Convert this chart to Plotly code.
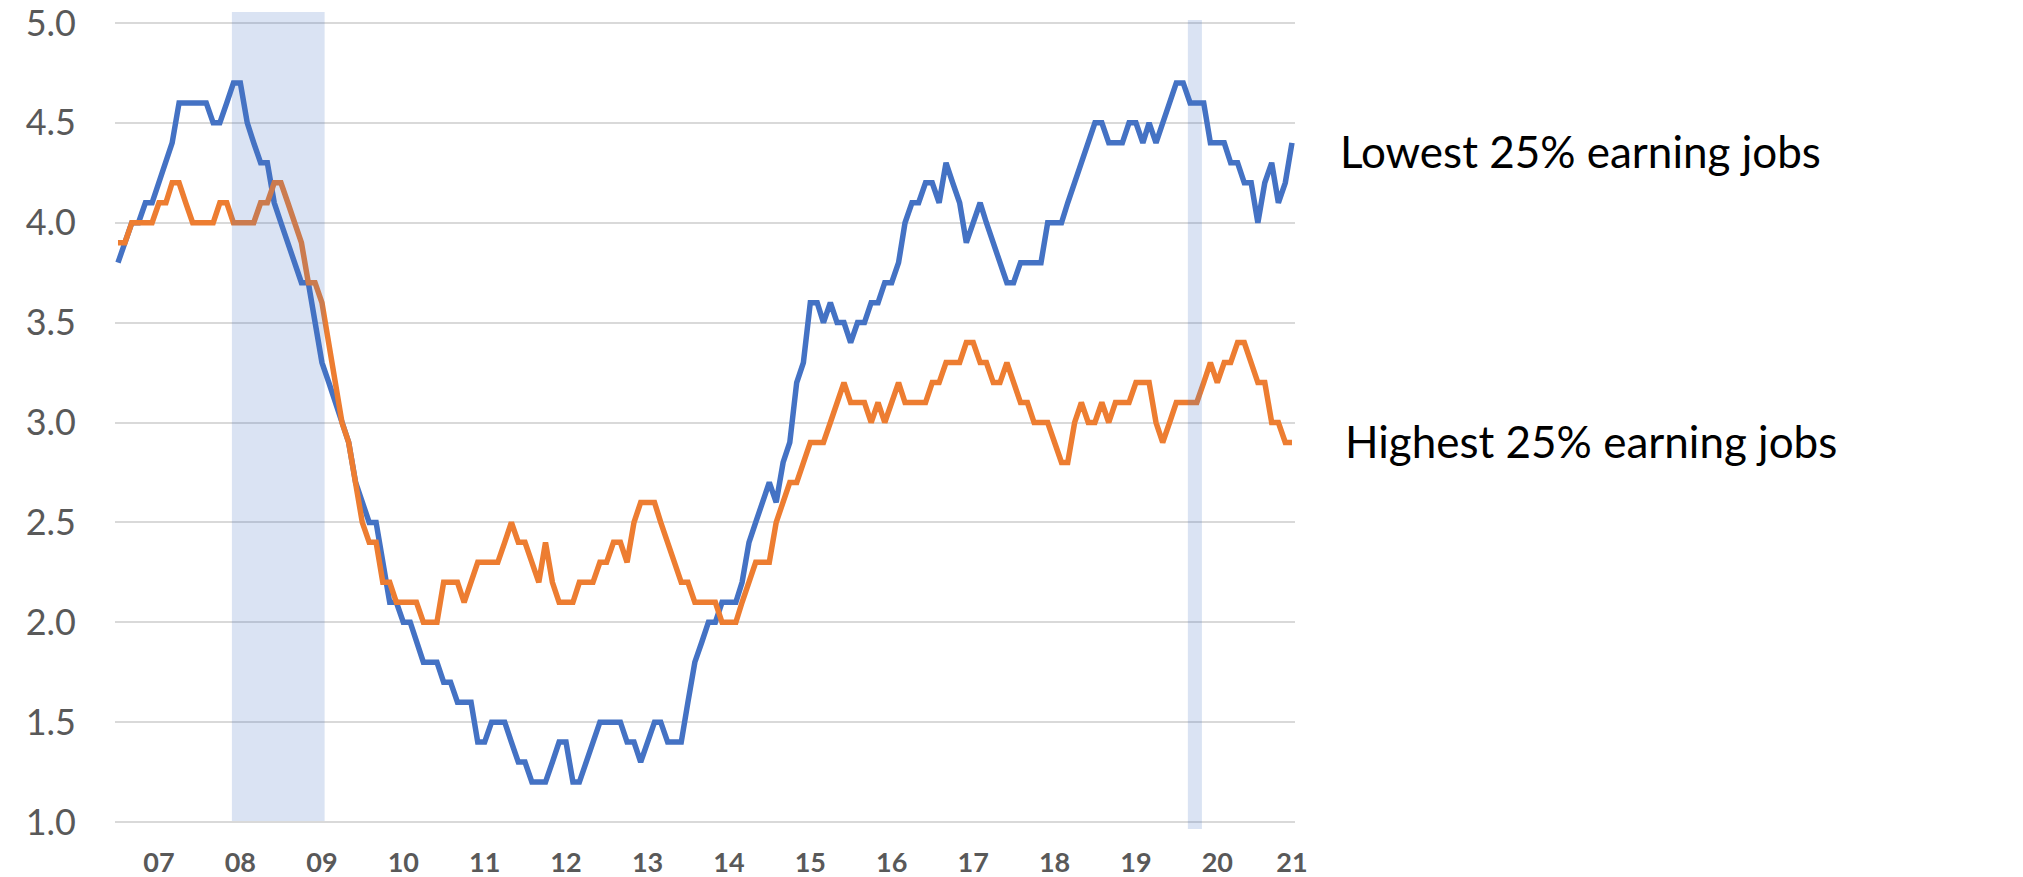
import pandas as pd
import plotly.graph_objects as go

# Monthly wage growth (%) by earnings quartile, Jul 2006 - Dec 2020
months = pd.date_range("2006-07-01", periods=174, freq="MS")

lowest_quartile = [
    3.8, 3.9, 4.0, 4.0, 4.1, 4.1, 4.2, 4.3, 4.4, 4.6,
    4.6, 4.6, 4.6, 4.6, 4.5, 4.5, 4.6, 4.7, 4.7, 4.5,
    4.4, 4.3, 4.3, 4.1, 4.0, 3.9, 3.8, 3.7, 3.7, 3.5,
    3.3, 3.2, 3.1, 3.0, 2.9, 2.7, 2.6, 2.5, 2.5, 2.3,
    2.1, 2.1, 2.0, 2.0, 1.9, 1.8, 1.8, 1.8, 1.7, 1.7,
    1.6, 1.6, 1.6, 1.4, 1.4, 1.5, 1.5, 1.5, 1.4, 1.3,
    1.3, 1.2, 1.2, 1.2, 1.3, 1.4, 1.4, 1.2, 1.2, 1.3,
    1.4, 1.5, 1.5, 1.5, 1.5, 1.4, 1.4, 1.3, 1.4, 1.5,
    1.5, 1.4, 1.4, 1.4, 1.6, 1.8, 1.9, 2.0, 2.0, 2.1,
    2.1, 2.1, 2.2, 2.4, 2.5, 2.6, 2.7, 2.6, 2.8, 2.9,
    3.2, 3.3, 3.6, 3.6, 3.5, 3.6, 3.5, 3.5, 3.4, 3.5,
    3.5, 3.6, 3.6, 3.7, 3.7, 3.8, 4.0, 4.1, 4.1, 4.2,
    4.2, 4.1, 4.3, 4.2, 4.1, 3.9, 4.0, 4.1, 4.0, 3.9,
    3.8, 3.7, 3.7, 3.8, 3.8, 3.8, 3.8, 4.0, 4.0, 4.0,
    4.1, 4.2, 4.3, 4.4, 4.5, 4.5, 4.4, 4.4, 4.4, 4.5,
    4.5, 4.4, 4.5, 4.4, 4.5, 4.6, 4.7, 4.7, 4.6, 4.6,
    4.6, 4.4, 4.4, 4.4, 4.3, 4.3, 4.2, 4.2, 4.0, 4.2,
    4.3, 4.1, 4.2, 4.4,
]

highest_quartile = [
    3.9, 3.9, 4.0, 4.0, 4.0, 4.0, 4.1, 4.1, 4.2, 4.2,
    4.1, 4.0, 4.0, 4.0, 4.0, 4.1, 4.1, 4.0, 4.0, 4.0,
    4.0, 4.1, 4.1, 4.2, 4.2, 4.1, 4.0, 3.9, 3.7, 3.7,
    3.6, 3.4, 3.2, 3.0, 2.9, 2.7, 2.5, 2.4, 2.4, 2.2,
    2.2, 2.1, 2.1, 2.1, 2.1, 2.0, 2.0, 2.0, 2.2, 2.2,
    2.2, 2.1, 2.2, 2.3, 2.3, 2.3, 2.3, 2.4, 2.5, 2.4,
    2.4, 2.3, 2.2, 2.4, 2.2, 2.1, 2.1, 2.1, 2.2, 2.2,
    2.2, 2.3, 2.3, 2.4, 2.4, 2.3, 2.5, 2.6, 2.6, 2.6,
    2.5, 2.4, 2.3, 2.2, 2.2, 2.1, 2.1, 2.1, 2.1, 2.0,
    2.0, 2.0, 2.1, 2.2, 2.3, 2.3, 2.3, 2.5, 2.6, 2.7,
    2.7, 2.8, 2.9, 2.9, 2.9, 3.0, 3.1, 3.2, 3.1, 3.1,
    3.1, 3.0, 3.1, 3.0, 3.1, 3.2, 3.1, 3.1, 3.1, 3.1,
    3.2, 3.2, 3.3, 3.3, 3.3, 3.4, 3.4, 3.3, 3.3, 3.2,
    3.2, 3.3, 3.2, 3.1, 3.1, 3.0, 3.0, 3.0, 2.9, 2.8,
    2.8, 3.0, 3.1, 3.0, 3.0, 3.1, 3.0, 3.1, 3.1, 3.1,
    3.2, 3.2, 3.2, 3.0, 2.9, 3.0, 3.1, 3.1, 3.1, 3.1,
    3.2, 3.3, 3.2, 3.3, 3.3, 3.4, 3.4, 3.3, 3.2, 3.2,
    3.0, 3.0, 2.9, 2.9,
]

series_labels = ["Lowest 25% earning jobs", "Highest 25% earning jobs"]
series_colors = ["#4472C4", "#ED7D31"]

# Shaded periods (x as dates, y as fraction of plot height)
shaded_periods = [("2007-11-24", "2009-01-13"), ("2019-08-22", "2019-10-24")]
shade_extent = [(0.0037, 1.0112), (-0.0062, 1.0012)]

# Year tick labels
tick_dates = [f"{y}-01-01" for y in range(2007, 2021)] + ["2020-12-01"]
tick_text = [f"{y % 100:02d}" for y in range(2007, 2022)]
y_ticks = [1.0, 1.5, 2.0, 2.5, 3.0, 3.5, 4.0, 4.5, 5.0]

fig = go.Figure()
for name, vals, color in zip(series_labels, [lowest_quartile, highest_quartile], series_colors):
    fig.add_trace(go.Scatter(
        x=months, y=vals, mode="lines", name=name,
        line=dict(color=color, width=5.5),
    ))

for (x0, x1), (y0, y1) in zip(shaded_periods, shade_extent):
    fig.add_shape(
        type="rect", xref="x", yref="paper",
        x0=x0, x1=x1, y0=y0, y1=y1,
        fillcolor="rgba(68,114,196,0.2)", line_width=0, layer="above",
    )

label_font = dict(family="Lato", size=44, color="#000000")
fig.add_annotation(
    text=series_labels[0], xref="paper", yref="paper",
    x=1.0364, y=0.8381, xanchor="left", yanchor="middle", showarrow=False,
    font=label_font,
)
fig.add_annotation(
    text=series_labels[1], xref="paper", yref="paper",
    x=1.0407, y=0.4770, xanchor="left", yanchor="middle", showarrow=False,
    font=label_font,
)

fig.update_layout(
    width=2023, height=877,
    margin=dict(l=115, r=728, t=21, b=53, autoexpand=False),
    plot_bgcolor="white", paper_bgcolor="white",
    showlegend=False,
    xaxis=dict(
        type="date",
        range=["2006-06-17 14:00", "2020-12-14 14:00"],
        tickvals=tick_dates, ticktext=tick_text,
        showgrid=False, zeroline=False, showline=False, ticks="",
        tickfont=dict(family="Lato", size=27, color="#595959", weight="bold"),
        ticklabelstandoff=20,
        ticklabeloverflow="allow",
        automargin=False,
    ),
    yaxis=dict(
        range=[0.99, 5.01],
        tickvals=y_ticks,
        tickformat=".1f",
        showgrid=True, gridcolor="#D9D9D9", gridwidth=1.6,
        zeroline=False, showline=False, ticks="",
        tickfont=dict(family="Lato", size=36, color="#595959"),
        ticklabelstandoff=38,
        ticklabeloverflow="allow",
        automargin=False,
    ),
)

fig.write_html("out.html")
